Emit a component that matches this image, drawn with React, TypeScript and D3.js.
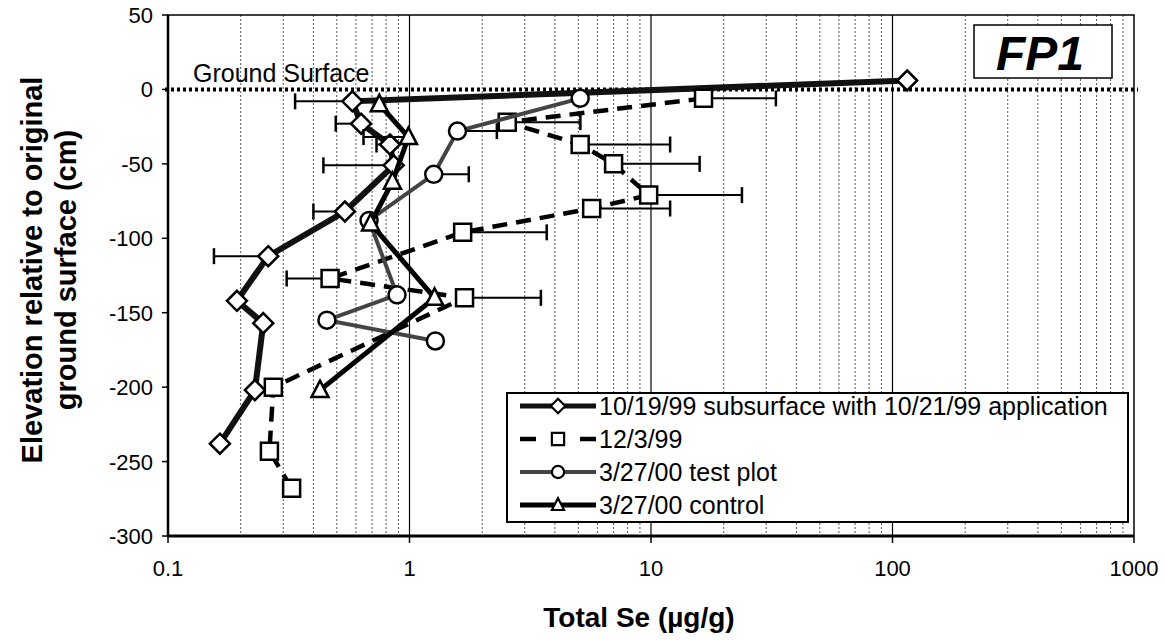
'use client';
import { useEffect, useRef } from 'react';
import * as d3 from 'd3';

const W = 1165;
const H = 640;
const L = 168;
const R = 1134;
const T = 15;
const B = 536;
const FONT = 'Arial, "Liberation Sans", Helvetica, sans-serif';

const xScale = d3.scaleLog([0.1, 1000], [L, R]);
const yScale = d3.scaleLinear([-300, 50], [B, T]);

const xTicks = [0.1, 1, 10, 100, 1000];
const xTickLabels = ['0.1', '1', '10', '100', '1000'];
const yTicks = [50, 0, -50, -100, -150, -200, -250, -300];

// 10/19/99 subsurface with 10/21/99 application (diamonds)
const dSe = [115, 0.58, 0.63, 0.83, 0.86, 0.54, 0.26, 0.193, 0.248, 0.229, 0.164];
const dZ = [6, -8, -23, -37, -51, -82, -112, -142, -157, -202, -238];
const dLo = [null, 0.336, 0.495, 0.73, 0.44, 0.4, 0.155, null, null, null, null];
const dHi = dSe.map(() => null);

// 12/3/99 (squares)
const sSe = [16.5, 2.54, 5.09, 7.0, 9.78, 5.68, 1.66, 0.469, 1.69, 0.273, 0.263, 0.325];
const sZ = [-6, -22, -37, -50, -71, -80, -96, -127, -140, -200, -243, -268];
const sLo = [null, null, null, null, null, null, null, 0.31, null, null, null, null];
const sHi = [32.9, 5.1, 12.0, 15.9, 23.8, 12.0, 3.7, null, 3.5, null, null, null];

// 3/27/00 test plot (circles)
const cSe = [5.09, 1.58, 1.26, 0.68, 0.888, 0.455, 1.28];
const cZ = [-6, -28, -57, -88, -138, -155, -169];
const cLo = cSe.map(() => null);
const cHi = [null, 2.3, 1.76, null, null, null, null];

// 3/27/00 control (triangles)
const tSe = [0.75, 0.99, 0.85, 0.69, 1.27, 0.426];
const tZ = [-10, -32, -62, -90, -140, -202];
const tLo = [null, 0.645, null, null, null, null];
const tHi = tSe.map(() => null);

const legendLabels = [
  '10/19/99 subsurface with 10/21/99 application',
  '12/3/99',
  '3/27/00 test plot',
  '3/27/00 control',
];

type Pt = { se: number; z: number; lo: number | null; hi: number | null };
const zip = (se: number[], z: number[], lo: (number | null)[], hi: (number | null)[]): Pt[] =>
  se.map((v, i) => ({ se: v, z: z[i], lo: lo[i], hi: hi[i] }));

const markerPath: Record<string, string> = {
  diamond: 'M0,-10L10,0L0,10L-10,0Z',
  square: 'M-8.5,-8.5H8.5V8.5H-8.5Z',
  circle: d3.arc()({ innerRadius: 0, outerRadius: 8.5, startAngle: 0, endAngle: Math.PI * 2 }) as string,
  triangle: 'M0,-9.5L8.5,7L-8.5,7Z',
};

const series = [
  { pts: zip(dSe, dZ, dLo, dHi), shape: 'diamond', color: '#111', width: 6, dash: null as string | null },
  { pts: zip(sSe, sZ, sLo, sHi), shape: 'square', color: '#000', width: 4.5, dash: '15,9' },
  { pts: zip(cSe, cZ, cLo, cHi), shape: 'circle', color: '#444', width: 4, dash: null },
  { pts: zip(tSe, tZ, tLo, tHi), shape: 'triangle', color: '#000', width: 5, dash: null },
];

export default function App() {
  const svgRef = useRef<SVGSVGElement>(null);

  useEffect(() => {
    const svg = d3.select(svgRef.current);
    svg.selectAll('*').remove();
    svg.append('rect').attr('width', W).attr('height', H).attr('fill', '#fff');

    // vertical grid lines
    const minor: number[] = [];
    [0.1, 1, 10, 100].forEach(dec => d3.range(2, 10).forEach(k => minor.push(dec * k)));
    svg.append('g').selectAll('line').data(minor).join('line')
      .attr('x1', d => xScale(d)).attr('x2', d => xScale(d)).attr('y1', T).attr('y2', B)
      .attr('stroke', '#555').attr('stroke-width', 1).attr('stroke-dasharray', '2,2');
    svg.append('g').selectAll('line').data([1, 10, 100]).join('line')
      .attr('x1', d => xScale(d)).attr('x2', d => xScale(d)).attr('y1', T).attr('y2', B)
      .attr('stroke', '#000').attr('stroke-width', 1.2);

    // frame
    svg.append('rect').attr('x', L).attr('y', T).attr('width', R - L).attr('height', B - T)
      .attr('fill', 'none').attr('stroke', '#000').attr('stroke-width', 1.5);
    svg.append('line').attr('x1', L).attr('x2', L).attr('y1', T).attr('y2', B + 1)
      .attr('stroke', '#000').attr('stroke-width', 2.5);
    svg.append('line').attr('x1', L).attr('x2', R).attr('y1', B).attr('y2', B)
      .attr('stroke', '#000').attr('stroke-width', 3);

    // axes ticks + labels
    const yg = svg.append('g');
    yg.selectAll('line').data(yTicks).join('line')
      .attr('x1', L - 6).attr('x2', L).attr('y1', d => yScale(d)).attr('y2', d => yScale(d))
      .attr('stroke', '#000').attr('stroke-width', 1.5);
    yg.selectAll('text').data(yTicks).join('text')
      .attr('x', 153).attr('y', d => yScale(d) + 8).attr('text-anchor', 'end')
      .attr('font-family', FONT).attr('font-size', 22).text(d => String(d));
    const xg = svg.append('g');
    xg.selectAll('line').data(xTicks).join('line')
      .attr('x1', d => xScale(d)).attr('x2', d => xScale(d)).attr('y1', B).attr('y2', B + 7)
      .attr('stroke', '#000').attr('stroke-width', 1.5);
    xg.selectAll('text').data(xTicks).join('text')
      .attr('x', d => xScale(d)).attr('y', B + 40).attr('text-anchor', 'middle')
      .attr('font-family', FONT).attr('font-size', 22).text((_, i) => xTickLabels[i]);

    svg.append('text').attr('x', (L + R) / 2 - 12).attr('y', 627).attr('text-anchor', 'middle')
      .attr('font-family', FONT).attr('font-size', 28).attr('font-weight', 'bold')
      .text('Total Se (µg/g)');
    [['Elevation relative to original', 42], ['ground surface (cm)', 76]].forEach(([t, x]) => {
      svg.append('text').attr('transform', `translate(${x},270) rotate(-90)`)
        .attr('text-anchor', 'middle').attr('font-family', FONT).attr('font-size', 29)
        .attr('font-weight', 'bold').text(t as string);
    });

    // ground surface
    svg.append('line').attr('x1', L - 3).attr('x2', R + 4).attr('y1', yScale(0)).attr('y2', yScale(0))
      .attr('stroke', '#000').attr('stroke-width', 4).attr('stroke-dasharray', '3,3');
    svg.append('text').attr('x', 193).attr('y', yScale(0) - 7)
      .attr('font-family', FONT).attr('font-size', 25).text('Ground Surface');

    // FP1 label
    svg.append('rect').attr('x', 974).attr('y', 25).attr('width', 138).attr('height', 53)
      .attr('fill', '#fff').attr('stroke', '#000').attr('stroke-width', 1.5);
    svg.append('text').attr('x', 1040).attr('y', 70).attr('text-anchor', 'middle')
      .attr('font-family', FONT).attr('font-size', 48).attr('font-weight', 'bold')
      .attr('font-style', 'italic').text('FP1');

    const line = d3.line<Pt>().x(d => xScale(d.se)).y(d => yScale(d.z));

    series.forEach(s => {
      const g = svg.append('g');
      // error bars
      s.pts.forEach(p => {
        const y = yScale(p.z);
        [p.lo, p.hi].forEach(e => {
          if (e == null) return;
          g.append('line').attr('x1', xScale(p.se)).attr('x2', xScale(e)).attr('y1', y).attr('y2', y)
            .attr('stroke', '#000').attr('stroke-width', 2);
          g.append('line').attr('x1', xScale(e)).attr('x2', xScale(e)).attr('y1', y - 8).attr('y2', y + 8)
            .attr('stroke', '#000').attr('stroke-width', 2.5);
        });
      });
      g.append('path').datum(s.pts).attr('d', line).attr('fill', 'none')
        .attr('stroke', s.color).attr('stroke-width', s.width)
        .attr('stroke-dasharray', s.dash);
      g.selectAll('path.m').data(s.pts).join('path').attr('class', 'm')
        .attr('transform', d => `translate(${xScale(d.se)},${yScale(d.z)})`)
        .attr('d', markerPath[s.shape]).attr('fill', '#fff')
        .attr('stroke', '#000').attr('stroke-width', 2.5);
    });

    // legend
    const lx = 507, ly = 393, lw = 621, lh = 129;
    const lg = svg.append('g');
    lg.append('rect').attr('x', lx).attr('y', ly).attr('width', lw).attr('height', lh)
      .attr('fill', '#fff').attr('stroke', '#000').attr('stroke-width', 2);
    series.forEach((s, i) => {
      const y = ly + 13 + i * 33;
      if (s.dash) {
        [[520, 536], [580, 596]].forEach(([a, b]) => lg.append('line')
          .attr('x1', a).attr('x2', b).attr('y1', y).attr('y2', y)
          .attr('stroke', s.color).attr('stroke-width', s.width));
      } else {
        lg.append('line').attr('x1', 520).attr('x2', 596).attr('y1', y).attr('y2', y)
          .attr('stroke', s.color).attr('stroke-width', Math.min(s.width, 5));
      }
      lg.append('path').attr('transform', `translate(558,${y}) scale(0.72)`)
        .attr('d', markerPath[s.shape]).attr('fill', '#fff').attr('stroke', '#000').attr('stroke-width', 3);
      lg.append('text').attr('x', 599).attr('y', y + 9).attr('font-family', FONT)
        .attr('font-size', 25).text(legendLabels[i]);
    });
  }, []);

  return (
    <svg ref={svgRef} width={W} height={H}
      style={{ position: 'absolute', left: 0, top: 0, display: 'block' }} />
  );
}
